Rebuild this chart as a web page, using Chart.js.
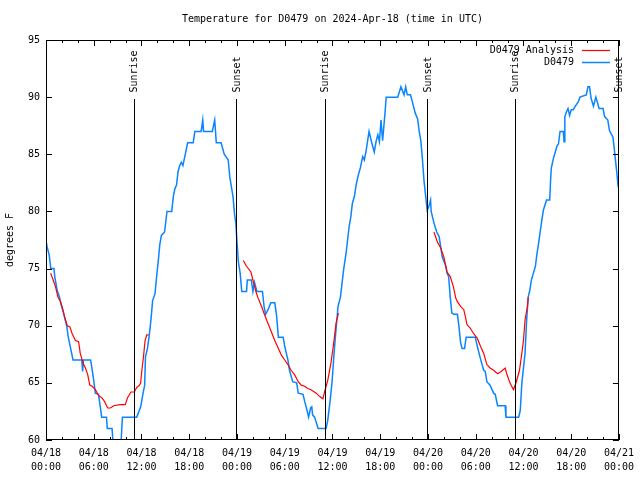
<!DOCTYPE html>
<html><head><meta charset="utf-8">
<script src="https://cdn.jsdelivr.net/npm/chart.js@4.4.1/dist/chart.umd.min.js"></script>
<style>html,body{margin:0;padding:0;background:#fff}</style>
</head><body>
<canvas id="c" width="640" height="480"></canvas>
<script>
// ---------------- data ----------------
const titleText = 'Temperature for D0479 on 2024-Apr-18 (time in UTC)';
const yAxisLabel = 'degrees F';
const xTickDates = ['04/18','04/18','04/18','04/18','04/19','04/19','04/19','04/19','04/20','04/20','04/20','04/20','04/21'];
const xTickTimes = ['00:00','06:00','12:00','18:00','00:00','06:00','12:00','18:00','00:00','06:00','12:00','18:00','00:00'];
const yTickValues = [60,65,70,75,80,85,90,95];
const seriesNames = ['D0479 Analysis','D0479'];

// observed (hours since 04/18 00:00 UTC, deg F)
const obsHours = [0.0,0.1,0.4,0.6,1.0,1.1,1.4,1.7,1.9,2.2,2.6,2.8,3.1,3.4,4.5,4.6,4.7,5.6,5.75,6.0,6.2,6.6,7.0,7.6,7.7,8.3,8.5,9.3,9.45,9.6,11.4,11.9,12.2,12.4,12.5,12.75,13.0,13.2,13.4,13.7,13.9,14.1,14.3,14.5,14.9,15.2,15.8,16.0,16.2,16.4,16.6,16.8,17.0,17.2,17.5,17.8,18.5,18.7,19.5,19.7,19.8,20.9,21.2,21.4,22.0,22.4,22.9,23.1,23.5,23.7,23.85,
  23.96,24.17,24.4,24.6,25.2,25.3,25.8,26.0,26.2,26.5,27.2,27.4,27.6,27.9,28.25,28.75,28.96,29.2,29.8,30.0,30.2,30.4,30.6,31.0,31.5,31.7,32.3,32.5,32.8,33.0,33.25,33.4,33.5,33.75,34.2,35.2,35.4,35.7,35.95,36.2,36.4,36.7,37.0,37.2,37.4,37.7,37.9,38.1,38.3,38.5,38.75,39.0,39.25,39.5,39.8,40.0,40.2,40.4,40.6,40.9,41.25,41.5,41.7,41.9,42.1,42.3,42.6,42.75,44.2,44.6,45.0,45.2,45.4,45.8,46.0,46.4,46.7,46.9,47.1,47.3,47.5,47.7,
  47.9,48.1,48.33,48.4,48.75,49.1,49.4,49.8,50.2,50.4,50.6,50.8,51.0,51.25,51.7,51.9,52.1,52.3,52.6,52.8,53.95,54.2,54.6,55.0,55.2,55.4,55.8,56.25,56.45,56.75,57.7,57.8,59.4,59.6,59.8,60.2,60.4,60.6,60.8,61.0,61.25,61.5,61.7,61.9,62.1,62.3,62.5,62.9,63.3,63.4,63.5,63.75,64.0,64.2,64.4,64.6,65.0,65.1,65.2,65.4,65.6,65.8,66.0,66.25,66.5,66.9,67.1,67.9,68.1,68.3,68.5,68.8,69.1,69.5,70.0,70.2,70.6,70.8,71.25,71.5,71.7,71.9,72.0];
const obsTemps = [77.2,77.0,76.2,75,75,74.3,73.1,72.5,71.8,71.1,70.0,69,68,67,67,66,67,67,66.4,65.2,64.1,64,62,62,61,61,59,59,60,62,62,62.9,64.1,64.8,67.3,68,69.3,70.6,72.2,72.8,74.3,75.6,77.1,77.9,78.2,80,80,81.3,82,82.3,83.5,84,84.3,84,85,86,86,87,87,88,87,87,88,86,86,85,84.5,83,81.3,79.7,79.0,
  77.8,75.6,74.6,73,73,74,74,73,73.8,73,73,71.7,71,71.4,72,72,71,69,69,68.2,67.6,67,66.1,65.1,65,64.1,64,63.4,62.6,62,62.8,62.9,62.2,62,61,61,61.7,63.4,65.1,67.6,69.3,71.7,72.5,73.7,74.9,76.3,77.5,78.7,79.5,80.7,81.3,82.4,83.2,83.8,84.8,84.5,85.2,86.1,87,86.1,85.2,86.2,86.7,86.1,88,86.2,88.6,90,90,90.9,90.2,90.9,90.2,90.2,89.7,88.6,88.1,87,86.2,84.6,82.7,81.4,
  80.1,80.4,81,80,79,78.2,77.8,76,75.3,74.6,74.3,72.5,71.1,71,71,69.9,68.5,68,68,69,69,68.2,67.1,66.1,66,65.1,64.8,64.1,64,63,63,62,62,62.6,65,67.6,70.5,72.5,73.1,74,74.6,75.2,76.3,77.2,78.2,79.2,80.1,81,81,82.6,83.8,84.6,85.2,85.7,85.9,87,87,86.1,88.3,88.7,89,88.4,88.9,88.9,89.2,89.6,90,90.2,90.9,90.9,89.9,89.2,90,89,89,88.3,88,87.1,86.5,84.9,83.6,82.2,82];

// analysis (null = gap)
const anaHours = [0.58,0.9,1.2,1.5,1.83,2.1,2.33,2.67,3.0,3.29,3.7,4.1,4.3,4.67,4.96,5.25,5.5,5.8,6.2,6.6,7.0,7.33,7.75,8.1,8.5,9.3,9.96,10.25,10.67,11.1,11.4,11.75,11.9,12.0,12.25,12.45,12.67,12.875,12.9,
  24.79,25.2,25.75,26.0,26.33,26.6,27.08,27.5,27.9,28.3,28.75,29.2,29.6,30.0,30.4,30.8,31.25,31.7,32.08,32.5,32.9,33.3,33.96,34.4,34.8,35.0,35.4,35.8,36.1,36.45,36.75,36.8,
  48.75,49.2,49.6,50.0,50.4,50.8,51.2,51.5,51.7,52.1,52.5,52.7,52.9,53.3,53.75,54.2,54.6,55.0,55.4,55.8,56.25,56.75,57.2,57.7,57.9,58.3,58.75,59.1,59.5,59.8,60.0,60.2,60.5,60.6];
const anaTemps = [74.6,74,73.4,72.5,72.1,71.5,70.8,70,69.9,69.3,68.7,68.6,67.6,66.7,66.3,65.7,64.8,64.7,64.4,63.9,63.7,63.4,62.8,62.8,63,63.1,63.1,63.7,64.2,64.2,64.6,64.8,65,65.8,67.3,68.7,69.2,69.2,null,
  75.7,75.2,74.7,74,73.1,72.5,71.7,70.9,70.2,69.5,68.7,68,67.4,67,66.6,66.1,65.7,65.1,64.8,64.7,64.5,64.4,64.1,63.8,63.6,64.2,65.2,66.7,68.2,70.2,71.1,null,
  78.2,77.3,76.8,76,74.7,74.3,73.4,72.4,72.1,71.7,71.4,70.8,70.1,69.8,69.3,68.9,68.2,67.6,66.6,66.3,66.1,65.8,66,66.3,65.8,65,64.4,65.1,66.1,67.6,68.7,70.5,71.7,72.5];

// sunrise / sunset markers
const eventHours = [11.0, 23.875, 35.0, 47.875, 58.875, 71.875];
const eventNames = ['Sunrise','Sunset','Sunrise','Sunset','Sunrise','Sunset'];
const eventLineTop = 89.8;
const eventLabelStart = 90.4;

// ---------------- chart ----------------
const FONT = '"DejaVu Sans Mono", "Liberation Mono", monospace';
const RED = '#ff0000', BLUE = '#0a84ff';

const toPts = (xs, ys) => xs.map((x, i) => ({x, y: ys[i]}));

const decor = {
  id: 'decor',
  afterDatasetsDraw(chart) {
    const ctx = chart.ctx;
    const xs = chart.scales.x, ys = chart.scales.y;
    ctx.save();
    ctx.strokeStyle = '#000'; ctx.lineWidth = 1;
    ctx.beginPath();
    eventHours.forEach(h => {
      const px = Math.round(xs.getPixelForValue(h)) + 0.5;
      ctx.moveTo(px, ys.getPixelForValue(60));
      ctx.lineTo(px, Math.round(ys.getPixelForValue(eventLineTop)));
    });
    ctx.stroke();
    ctx.restore();
  },
  afterDraw(chart) {
    const ctx = chart.ctx, a = chart.chartArea;
    const xs = chart.scales.x, ys = chart.scales.y;
    ctx.save();
    ctx.strokeStyle = '#000'; ctx.lineWidth = 1;
    // border
    ctx.strokeRect(Math.round(a.left)+0.5, Math.round(a.top)+0.5, Math.round(a.right-a.left)-1, Math.round(a.bottom-a.top)-1);
    // x ticks (inward, mirrored)
    ctx.beginPath();
    for (let v = 0; v <= 72; v += 2) {
      const px = Math.round(xs.getPixelForValue(v)) + 0.5;
      const len = (v % 6 === 0) ? 6 : 3;
      ctx.moveTo(px, a.bottom); ctx.lineTo(px, a.bottom - len);
      ctx.moveTo(px, a.top); ctx.lineTo(px, a.top + len);
    }
    yTickValues.forEach(v => {
      const py = Math.round(ys.getPixelForValue(v)) + 0.5;
      ctx.moveTo(a.left, py); ctx.lineTo(a.left + 6, py);
      ctx.moveTo(a.right, py); ctx.lineTo(a.right - 6, py);
    });
    ctx.stroke();
    // event labels
    ctx.fillStyle = '#000';
    ctx.font = '10px ' + FONT;
    eventHours.forEach((h, i) => {
      const px = xs.getPixelForValue(h), py = ys.getPixelForValue(eventLabelStart);
      ctx.save();
      ctx.translate(px + 1, py);
      ctx.rotate(-Math.PI / 2);
      ctx.textAlign = 'left'; ctx.textBaseline = 'middle';
      ctx.fillText(eventNames[i], 0, 0);
      ctx.restore();
    });
    // title
    ctx.textAlign = 'center'; ctx.textBaseline = 'middle';
    ctx.fillText(titleText, (a.left + a.right) / 2, 19);
    // legend
    const colors = [RED, BLUE];
    seriesNames.forEach((n, i) => {
      const y = 50 + i * 12;
      ctx.textAlign = 'right'; ctx.fillStyle = '#000';
      ctx.fillText(n, 574, y);
      ctx.strokeStyle = colors[i]; ctx.lineWidth = i ? 1.5 : 1.2;
      ctx.beginPath(); ctx.moveTo(582, y + 0.5); ctx.lineTo(610, y + 0.5); ctx.stroke();
    });
    ctx.restore();
  }
};

Chart.defaults.font.family = FONT;
Chart.defaults.font.size = 10;
Chart.defaults.color = '#000';

new Chart(document.getElementById('c'), {
  type: 'line',
  data: {
    datasets: [
      { label: seriesNames[0], data: toPts(anaHours, anaTemps), borderColor: RED, borderWidth: 1.2, pointRadius: 0, spanGaps: false, order: 0, tension: 0 },
      { label: seriesNames[1], data: toPts(obsHours, obsTemps), borderColor: BLUE, borderWidth: 1.5, pointRadius: 0, order: 1, tension: 0 }
    ]
  },
  options: {
    responsive: false,
    animation: false,
    devicePixelRatio: 1,
    layout: { padding: { top: 40, right: 18, left: 0, bottom: 0 } },
    plugins: { legend: { display: false }, tooltip: { enabled: false }, title: { display: false } },
    scales: {
      x: {
        type: 'linear', min: 0, max: 72,
        grid: { display: false, drawTicks: false },
        border: { display: false },
        ticks: {
          stepSize: 2, autoSkip: false, maxRotation: 0, padding: 6,
          font: { size: 10, lineHeight: 1.4 },
          callback: v => { const r = Math.round(v); return (r % 6 === 0) ? [xTickDates[r/6], xTickTimes[r/6]] : ''; }
        },
        afterFit: s => { s.height = 40; }
      },
      y: {
        min: 60, max: 95,
        grid: { display: false, drawTicks: false },
        border: { display: false },
        ticks: { stepSize: 5, padding: 6 },
        title: { display: true, text: yAxisLabel, padding: { top: 4, bottom: 0 } },
        afterFit: s => { s.width = 46; }
      }
    }
  },
  plugins: [decor]
});
</script>
</body></html>
